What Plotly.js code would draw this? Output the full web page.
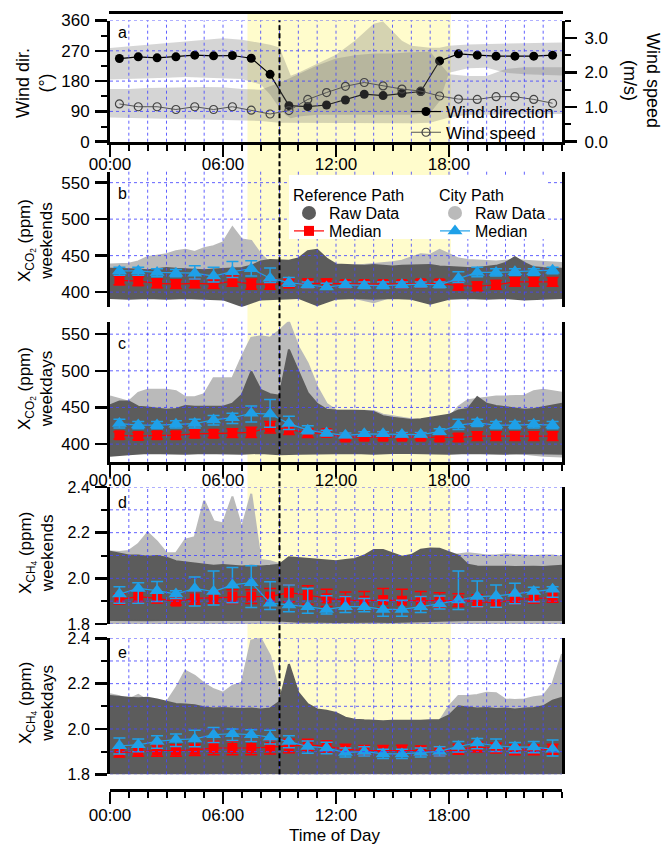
<!DOCTYPE html>
<html><head><meta charset="utf-8">
<script src="https://cdn.plot.ly/plotly-3.0.1.min.js"></script>
<style>html,body{margin:0;padding:0;background:#fff;} #chart{width:662px;height:845px;}</style>
</head><body><div id="chart"></div>
<script>
// ---------- x positions ----------
const hourMid = [0.5,1.5,2.5,3.5,4.5,5.5,6.5,7.5,8.5,9.5,10.5,11.5,12.5,13.5,14.5,15.5,16.5,17.5,18.5,19.5,20.5,21.5,22.5,23.5];
const rawHours = [0,0.5,1,1.5,2,2.5,3,3.5,4,4.5,5,5.5,6,6.5,7,7.5,8,8.5,9,9.5,10,10.5,11,11.5,12,12.5,13,13.5,14,14.5,15,15.5,16,16.5,17,17.5,18,18.5,19,19.5,20,20.5,21,21.5,22,22.5,23,23.5,24];
const loHours = [0,1,2,3,4,5,6,7,8,9,10,11,12,13,14,15,16,17,18,19,20,21,22,23,24];
const gridHours = [1,2,3,4,5,6,7,8,9,10,11,12,13,14,15,16,17,18,19,20,21,22,23];
const tickHours = [0,6,12,18];
const tickTimes = ['00:00','06:00','12:00','18:00'];

// ---------- panel a: wind ----------
const windDir = [247,252,249,252,257,255,256,248,200,107,104,109,124,141,137,144,149,240,261,257,254,254,254,257];
const windSpd = [1.09,1.01,1.01,0.93,1.01,0.93,1.01,0.91,0.80,0.90,1.22,1.42,1.60,1.71,1.61,1.52,1.46,1.32,1.23,1.22,1.30,1.30,1.22,1.11];
const dirHours = [0,1,2,3,4,5,6,7,8,8.5,9,9.3,9.6,10,11,12,13,14,14.5,15,15.5,16,17,17.5,18,19,20,21,22,23,24];
const dirUp = [278,283,288,292,297,302,307,303,293,288,280,240,196,205,232,258,300,350,357,330,300,285,279,279,285,289,290,290,291,293,295];
const dirLo = [185,186,188,190,192,190,188,186,170,140,100,80,70,75,80,82,82,80,80,80,80,80,85,120,205,218,220,205,200,198,197];
const spdHours = [0,1,2,3,4,5,6,7,8,9,10,11,12,13,14,15,16,17,18,19,20,21,22,23,24];
const spdUp = [1.52,1.52,1.55,1.56,1.58,1.58,1.57,1.52,1.50,1.70,1.95,2.20,2.40,2.50,2.55,2.55,2.58,2.60,1.95,1.90,1.90,2.10,2.15,2.15,2.15];
const spdLo = [0.70,0.70,0.68,0.66,0.65,0.64,0.63,0.62,0.60,0.55,0.55,0.53,0.53,0.53,0.53,0.53,0.53,0.55,0.70,0.78,0.80,0.80,0.80,0.80,0.80];
const dirGrid = [90,180,270,360];

// ---------- panel b: CO2 weekends ----------
const refB_hi = [432,432,431,431,430,431,433,432,431,431,430,431,432,433,433,436,442,444,444,443,446,456,458,446,438,437,436,436,437,436,435,436,436,437,437,435,434,433,433,433,434,436,440,448,440,434,433,432,432];
const refB_lo = [392,391,392,391,392,391,390,381,390,391,392,382,391,392,391,392,391,384,391,392,391,392,390,391,392];
const cityB_hi = [438,438,439,442,448,450,452,456,458,455,460,463,468,489,472,470,452,440,437,436,435,435,434,434,434,435,436,437,438,440,441,443,447,452,451,458,452,446,444,443,443,442,443,444,443,442,441,440,440];
const cityB_lo = [394,395,394,395,394,395,394,393,394,395,396,396,395,392,386,394,396,395,395,394,395,394,395,394,394];
const redB = [416,415,412,411,412,411,415,411,411,412,412,412,411,411,411,411,412,412,409,408,410,414,414,414];
const redB_err = [6,6,6,6,6,6,7,7,7,6,6,6,5,5,5,5,5,5,6,6,6,6,6,6];
const blueB = [429,429,427,426,426,422,428,432,419,413,410,407,410,409,409,410,411,410,419,427,427,428,428,430];
const blueB_plus = [5,5,5,5,10,12,14,11,14,7,4,5,4,5,5,4,3,4,9,7,5,4,4,4];
const blueB_minus = [6,6,6,5,8,8,8,10,6,5,4,3,4,4,4,4,4,4,6,6,5,5,5,5];
const co2Ticks = [400,450,500,550];

// ---------- panel c: CO2 weekdays ----------
const refC_hi = [453,458,458,451,450,448,447,448,452,451,451,451,451,455,467,499,474,468,466,529,500,470,455,447,446,446,446,445,444,438,436,434,433,434,436,437,440,446,448,464,455,452,450,448,447,448,450,452,455];
const refC_lo = [384,386,388,388,387,388,388,387,388,386,387,388,388,388,387,388,388,388,387,388,388,387,388,388,387];
const cityC_hi = [465,462,458,470,474,474,474,472,464,464,468,490,490,490,519,545,547,545,555,567,533,510,478,455,446,446,446,446,445,440,438,435,434,433,433,433,436,451,460,462,464,465,465,465,466,472,474,472,470];
const cityC_lo = [386,388,388,387,388,388,387,388,388,388,388,388,388,388,388,388,388,387,388,388,388,388,387,384,383];
const redC = [412,411,412,412,414,414,415,416,423,420,415,415,409,410,410,410,410,409,409,411,411,411,411,411];
const redC_err = [5,5,5,5,5,5,6,7,8,7,6,5,4,4,4,4,4,4,5,6,6,6,6,6];
const blueC = [428,426,426,427,428,433,436,442,441,428,419,415,412,414,414,413,413,417,426,429,426,426,427,426];
const blueC_plus = [6,5,5,5,6,6,6,10,20,10,6,4,3,3,3,3,3,4,8,5,5,5,5,5];
const blueC_minus = [6,5,5,5,6,7,8,12,18,8,5,4,3,3,3,3,3,4,6,5,5,5,5,5];

// ---------- panel d: CH4 weekends ----------
const refD_hi = [2.117,2.110,2.100,2.100,2.095,2.098,2.090,2.075,2.070,2.066,2.058,2.055,2.058,2.055,2.052,2.055,2.052,2.055,2.060,2.092,2.088,2.085,2.080,2.078,2.075,2.080,2.085,2.100,2.124,2.124,2.110,2.095,2.102,2.125,2.131,2.130,2.115,2.100,2.060,2.052,2.051,2.052,2.051,2.050,2.052,2.051,2.050,2.052,2.055];
const refD_lo = [1.818,1.818,1.816,1.818,1.817,1.818,1.818,1.817,1.818,1.815,1.810,1.810,1.809,1.808,1.810,1.809,1.810,1.812,1.815,1.818,1.817,1.818,1.818,1.817,1.818];
const cityD_hi = [2.117,2.115,2.120,2.150,2.200,2.160,2.110,2.110,2.170,2.180,2.340,2.250,2.240,2.358,2.220,2.370,2.080,2.075,2.062,2.060,2.058,2.056,2.055,2.055,2.055,2.055,2.055,2.056,2.058,2.060,2.062,2.065,2.068,2.070,2.072,2.075,2.100,2.105,2.110,2.105,2.100,2.100,2.105,2.102,2.100,2.098,2.100,2.100,2.095];
const cityD_lo = [1.800,1.802,1.800,1.801,1.800,1.799,1.800,1.801,1.800,1.798,1.796,1.796,1.795,1.796,1.795,1.796,1.796,1.798,1.800,1.801,1.800,1.802,1.800,1.801,1.800];
const redD = [1.908,1.920,1.912,1.898,1.912,1.915,1.920,1.920,1.920,1.937,1.927,1.912,1.905,1.902,1.905,1.902,1.902,1.902,1.902,1.898,1.893,1.908,1.912,1.915];
const redD_plus = [0.025,0.030,0.025,0.020,0.030,0.030,0.030,0.030,0.035,0.035,0.040,0.040,0.035,0.040,0.050,0.050,0.040,0.035,0.030,0.030,0.030,0.030,0.025,0.025];
const redD_minus = [0.020,0.025,0.020,0.015,0.025,0.025,0.030,0.030,0.030,0.040,0.040,0.035,0.030,0.030,0.035,0.035,0.030,0.030,0.025,0.025,0.020,0.020,0.020,0.020];
const blueD = [1.931,1.956,1.946,1.931,1.956,1.942,1.971,1.981,1.891,1.883,1.876,1.864,1.876,1.876,1.864,1.864,1.876,1.888,1.905,1.920,1.923,1.934,1.942,1.952];
const blueD_plus = [0.032,0.025,0.040,0.015,0.050,0.090,0.076,0.074,0.094,0.088,0.080,0.060,0.044,0.036,0.040,0.040,0.044,0.035,0.127,0.068,0.048,0.044,0.019,0.011];
const blueD_minus = [0.040,0.065,0.048,0.019,0.077,0.059,0.078,0.109,0.027,0.029,0.029,0.020,0.026,0.022,0.030,0.030,0.026,0.022,0.041,0.044,0.050,0.045,0.045,0.035];
const ch4Ticks = [1.8,2.0,2.2,2.4];
const ch4TickText = ['1.8','2.0','2.2','2.4'];
const ch4Grid = [1.8,1.9,2.0,2.1,2.2,2.3,2.4];

// ---------- panel e: CH4 weekdays ----------
const refE_hi = [2.145,2.140,2.138,2.135,2.138,2.130,2.120,2.110,2.108,2.105,2.095,2.090,2.093,2.090,2.088,2.090,2.086,2.090,2.120,2.286,2.160,2.110,2.086,2.080,2.071,2.050,2.041,2.038,2.036,2.034,2.036,2.035,2.034,2.036,2.038,2.040,2.060,2.100,2.095,2.090,2.093,2.088,2.090,2.086,2.090,2.093,2.100,2.125,2.138];
const refE_lo = [1.805,1.804,1.805,1.803,1.805,1.804,1.805,1.804,1.803,1.804,1.805,1.804,1.803,1.804,1.805,1.804,1.805,1.803,1.804,1.805,1.804,1.805,1.803,1.804,1.805];
const cityE_hi = [2.153,2.145,2.130,2.150,2.125,2.120,2.118,2.180,2.256,2.234,2.200,2.175,2.160,2.190,2.204,2.390,2.400,2.323,2.150,2.090,2.080,2.070,2.050,2.040,2.035,2.030,2.030,2.030,2.030,2.030,2.030,2.030,2.030,2.030,2.032,2.035,2.100,2.145,2.145,2.150,2.160,2.158,2.130,2.128,2.130,2.140,2.145,2.200,2.330];
const cityE_lo = [1.797,1.797,1.796,1.797,1.796,1.797,1.795,1.792,1.790,1.795,1.797,1.796,1.793,1.790,1.795,1.797,1.796,1.797,1.797,1.796,1.797,1.796,1.797,1.796,1.797];
const redE = [1.896,1.900,1.905,1.905,1.908,1.916,1.916,1.916,1.920,1.925,1.930,1.923,1.911,1.905,1.905,1.908,1.905,1.900,1.911,1.920,1.916,1.908,1.908,1.911];
const redE_err = [0.020,0.020,0.025,0.025,0.025,0.030,0.030,0.030,0.030,0.030,0.025,0.025,0.022,0.022,0.022,0.020,0.020,0.020,0.022,0.022,0.022,0.022,0.022,0.022];
const blueE = [1.926,1.930,1.945,1.953,1.956,1.975,1.979,1.975,1.964,1.945,1.923,1.916,1.896,1.901,1.890,1.890,1.896,1.901,1.923,1.938,1.926,1.920,1.920,1.911];
const blueE_plus = [0.034,0.026,0.025,0.025,0.038,0.032,0.021,0.022,0.030,0.025,0.024,0.025,0.020,0.020,0.020,0.020,0.020,0.020,0.022,0.020,0.030,0.020,0.025,0.040];
const blueE_minus = [0.036,0.030,0.030,0.030,0.035,0.035,0.030,0.030,0.030,0.028,0.030,0.025,0.020,0.020,0.020,0.020,0.020,0.020,0.025,0.025,0.025,0.025,0.025,0.030];

// ---------- styles ----------
const DARK = '#5c5c5c', LIGHT = '#bababa', RED = '#ff0000', BLUE = '#1ea0e8';
const GRID = 'rgba(70,70,255,0.85)';
const BANDFILL = 'rgba(115,115,115,0.3)';
const FONT = 'Liberation Sans, Arial, sans-serif';

function band(xHi, hi, xLo, lo) {
  return { x: xHi.concat(xLo.slice().reverse()), y: hi.concat(lo.slice().reverse()) };
}
function cloud(hi, lo, color, xa, ya) {
  const p = band(rawHours, hi, loHours, lo);
  return {type:'scatter', mode:'lines', x:p.x, y:p.y, fill:'toself', fillcolor:color,
    line:{color:color, width:2}, xaxis:xa, yaxis:ya, hoverinfo:'skip', showlegend:false};
}
function median(y, plus, minus, isRed, xa, ya, leg) {
  const c = isRed ? RED : BLUE;
  return {type:'scatter', mode:'lines+markers', x:hourMid, y:y, xaxis:xa, yaxis:ya,
    line:{color:c, width:1.2},
    marker: isRed ? {symbol:'square', size:10, color:c} : {symbol:'triangle-up', size:13, color:c},
    error_y:{type:'data', symmetric:false, array:plus, arrayminus:minus, color:c, thickness:1.5, width:6},
    name:'Median', showlegend: !!leg, legend: leg || 'legend', hoverinfo:'skip'};
}
function legendDot(color, leg) {
  return {type:'scatter', mode:'markers', x:[null], y:[null], xaxis:'x2', yaxis:'y3',
    marker:{size:14, color:color}, name:'Raw Data', legend:leg, showlegend:true, hoverinfo:'skip'};
}

const dirB = band(dirHours, dirUp, dirHours, dirLo);
const spdB = band(spdHours, spdUp, spdHours, spdLo);

const data = [
  {type:'scatter', mode:'lines', x:dirB.x, y:dirB.y, fill:'toself', fillcolor:BANDFILL, line:{width:0}, xaxis:'x', yaxis:'y', showlegend:false, hoverinfo:'skip'},
  {type:'scatter', mode:'lines+markers', x:hourMid, y:windDir, xaxis:'x', yaxis:'y', name:'Wind direction',
    line:{color:'#000', width:1.2}, marker:{symbol:'circle', size:9, color:'#000'}, legend:'legend', hoverinfo:'skip'},
  {type:'scatter', mode:'lines', x:spdB.x, y:spdB.y, fill:'toself', fillcolor:BANDFILL, line:{width:0}, xaxis:'x', yaxis:'y2', showlegend:false, hoverinfo:'skip'},
  {type:'scatter', mode:'lines+markers', x:hourMid, y:windSpd, xaxis:'x', yaxis:'y2', name:'Wind speed',
    line:{color:'#555', width:1}, marker:{symbol:'circle-open', size:8, color:'#444', line:{width:1.2}}, legend:'legend4', hoverinfo:'skip'},

  cloud(cityB_hi, cityB_lo, LIGHT, 'x2', 'y3'),
  cloud(refB_hi, refB_lo, DARK, 'x2', 'y3'),
  legendDot(DARK, 'legend2'),
  legendDot(LIGHT, 'legend5'),
  median(redB, redB_err, redB_err, true, 'x2', 'y3', 'legend3'),
  median(blueB, blueB_plus, blueB_minus, false, 'x2', 'y3', 'legend6'),

  cloud(cityC_hi, cityC_lo, LIGHT, 'x3', 'y4'),
  cloud(refC_hi, refC_lo, DARK, 'x3', 'y4'),
  median(redC, redC_err, redC_err, true, 'x3', 'y4'),
  median(blueC, blueC_plus, blueC_minus, false, 'x3', 'y4'),

  cloud(cityD_hi, cityD_lo, LIGHT, 'x4', 'y5'),
  cloud(refD_hi, refD_lo, DARK, 'x4', 'y5'),
  median(redD, redD_plus, redD_minus, true, 'x4', 'y5'),
  median(blueD, blueD_plus, blueD_minus, false, 'x4', 'y5'),

  cloud(cityE_hi, cityE_lo, LIGHT, 'x5', 'y6'),
  cloud(refE_hi, refE_lo, DARK, 'x5', 'y6'),
  median(redE, redE_err, redE_err, true, 'x5', 'y6'),
  median(blueE, blueE_plus, blueE_minus, false, 'x5', 'y6')
];

function xax(labeled, anchor, extra) {
  return Object.assign({
    range:[0,24], domain:[0,1], anchor:anchor,
    tickmode:'array', tickvals:tickHours, ticktext:tickTimes,
    showgrid:false, zeroline:false,
    minor:{tickmode:'linear', tick0:0, dtick:1, showgrid:false,
      ticks: labeled ? 'outside' : '', ticklen:6, tickwidth:2, tickcolor:'#000'},
    showline:labeled, linecolor:'#000', linewidth:3,
    ticks: labeled ? 'outside' : '', ticklen:12, tickwidth:2.5, tickcolor:'#000',
    showticklabels:labeled, tickfont:{size:17, family:FONT, color:'#000'},
    fixedrange:true
  }, extra || {});
}
function yax(domain, range, tickvals, ticktext, minorDtick, anchor, extra) {
  const a = {
    domain:domain, range:range, anchor:anchor,
    tickmode:'array', tickvals:tickvals, ticktext:ticktext,
    showgrid:false, zeroline:false,
    showline:true, linecolor:'#000', linewidth:3, mirror:true,
    ticks:'outside', ticklen:12, tickwidth:2.5, tickcolor:'#000',
    tickfont:{size:17, family:FONT, color:'#000'}, ticklabelstandoff:2, fixedrange:true
  };
  if (minorDtick) {
    a.minor = {tickmode:'linear', tick0:1.8, dtick:minorDtick, ticks:'outside', ticklen:6, tickwidth:2, tickcolor:'#000', showgrid:false};
  }
  return Object.assign(a, extra || {});
}

const P = 778;
const py = v => (790 - v) / P;        // pixel row -> paper fraction
const px = v => (v - 110) / 452;      // pixel column -> paper fraction

// dotted grid drawn in front of the data clouds
const panels = [
  {xa:'x', ya:'y', vals:dirGrid},
  {xa:'x2', ya:'y3', vals:co2Ticks},
  {xa:'x3', ya:'y4', vals:co2Ticks},
  {xa:'x4', ya:'y5', vals:ch4Grid},
  {xa:'x5', ya:'y6', vals:ch4Grid}
];
const gridShapes = [];
panels.forEach(p => {
  gridHours.forEach(h => gridShapes.push({type:'line', xref:p.xa, yref:p.ya + ' domain', x0:h, x1:h, y0:0, y1:1,
    line:{color:GRID, width:1, dash:'dot'}, layer:'above'}));
  p.vals.forEach(v => gridShapes.push({type:'line', xref:p.xa + ' domain', yref:p.ya, x0:0, x1:1, y0:v, y1:v,
    line:{color:GRID, width:1, dash:'dot'}, layer:'above'}));
});

const legBase = {xanchor:'left', yanchor:'top', bgcolor:'rgba(0,0,0,0)', tracegroupgap:0};

const layout = {
  width:662, height:845,
  margin:{l:110, r:100, t:12, b:55},
  paper_bgcolor:'#fff', plot_bgcolor:'rgba(0,0,0,0)',
  font:{family:FONT, size:17, color:'#000'},
  showlegend:true,
  xaxis: xax(true, 'y', {ticklabelstandoff:-7}),
  xaxis2: xax(false, 'y3'),
  xaxis3: xax(true, 'y4', {ticklabelstandoff:-11}),
  xaxis4: xax(false, 'y5'),
  xaxis5: xax(true, 'free', {position:0, ticklabelstandoff:-3}),
  yaxis: yax([py(141.7), py(20.5)], [0,360], [0,90,180,270,360], ['0','90','180','270','360'], 0, 'x',
    {mirror:false, minor:{tickmode:'linear', tick0:0, dtick:45, ticks:'outside', ticklen:6, tickwidth:2, tickcolor:'#000', showgrid:false}}),
  yaxis2: {overlaying:'y', side:'right', anchor:'x', range:[0,3.5], tickmode:'array', tickvals:[0,1,2,3], ticktext:['0.0','1.0','2.0','3.0'],
    showgrid:false, zeroline:false, showline:true, linecolor:'#000', linewidth:3,
    ticks:'outside', ticklen:12, tickwidth:2.5, tickcolor:'#000', ticklabelstandoff:4,
    minor:{tickmode:'linear', tick0:0, dtick:0.5, ticks:'outside', ticklen:6, tickwidth:2, tickcolor:'#000', showgrid:false},
    tickfont:{size:17, family:FONT, color:'#000'}, fixedrange:true},
  yaxis3: yax([py(306.7), py(171.7)], [380,565], co2Ticks, ['400','450','500','550'], 0, 'x2'),
  yaxis4: yax([py(461.7), py(321.7)], [376,567], co2Ticks, ['400','450','500','550'], 0, 'x3'),
  yaxis5: yax([py(624), py(487)], [1.8,2.4], ch4Ticks, ch4TickText, 0.1, 'x4', {tickfont:{size:16, family:FONT, color:'#000'}}),
  yaxis6: yax([py(774.3), py(638.3)], [1.8,2.4], ch4Ticks, ch4TickText, 0.1, 'x5', {tickfont:{size:16, family:FONT, color:'#000'}}),
  legend:  Object.assign({x:px(406), y:py(94), font:{size:17}}, legBase),
  legend4: Object.assign({x:px(406), y:py(114.7), font:{size:17}}, legBase),
  legend2: Object.assign({x:px(289), y:py(196), font:{size:16}}, legBase),
  legend3: Object.assign({x:px(289), y:py(214), font:{size:16}}, legBase),
  legend5: Object.assign({x:px(435), y:py(196), font:{size:16}}, legBase),
  legend6: Object.assign({x:px(435), y:py(214), font:{size:16}}, legBase),
  shapes: [
    {type:'rect', xref:'x', yref:'paper', x0:7.3, x1:18.1, y0:py(774.3), y1:py(13), fillcolor:'#fffccc', line:{width:0}, layer:'below'}
  ].concat(gridShapes).concat([
    {type:'line', xref:'x', yref:'paper', x0:9, x1:9, y0:py(774.3), y1:py(20.5), line:{color:'#000', width:2, dash:'5px,3px'}, layer:'above'},
    {type:'line', xref:'paper', yref:'paper', x0:px(109), x1:px(563), y0:py(12.5), y1:py(12.5), line:{color:'#000', width:3}, layer:'above'},
    {type:'rect', xref:'paper', yref:'paper', x0:px(289), x1:px(545), y0:py(239), y1:py(175), fillcolor:'#fff', line:{width:0}, layer:'above'}
  ]),
  annotations: [
    {text:'Wind dir.<br>(°)', x:px(35), y:py(83), textangle:-90, font:{size:18}},
    {text:'Wind speed<br>(m/s)', x:px(641), y:py(80), textangle:90, font:{size:18}},
    {text:'X<sub>CO<sub>2</sub></sub> (ppm)<br>weekends', x:px(36), y:py(241), textangle:-90, font:{size:17}},
    {text:'X<sub>CO<sub>2</sub></sub> (ppm)<br>weekdays', x:px(36), y:py(389), textangle:-90, font:{size:17}},
    {text:'X<sub>CH<sub>4</sub></sub> (ppm)<br>weekends', x:px(36), y:py(553), textangle:-90, font:{size:17}},
    {text:'X<sub>CH<sub>4</sub></sub> (ppm)<br>weekdays', x:px(36), y:py(703), textangle:-90, font:{size:17}},
    {text:'Time of Day', x:px(335), y:py(835), font:{size:17}},
    {text:'Reference Path', x:px(291), y:py(195), xanchor:'left', font:{size:16}},
    {text:'City Path', x:px(437), y:py(195), xanchor:'left', font:{size:16}},
    {text:'a', x:px(122), y:py(32), font:{size:16}},
    {text:'b', x:px(122), y:py(193), font:{size:16}},
    {text:'c', x:px(122), y:py(343), font:{size:16}},
    {text:'d', x:px(122), y:py(502), font:{size:16}},
    {text:'e', x:px(122), y:py(652), font:{size:16}}
  ].map(a => Object.assign({xref:'paper', yref:'paper', showarrow:false, xanchor:'center', yanchor:'middle'}, a))
};

Plotly.newPlot('chart', data, layout, {staticPlot:true, displayModeBar:false});
</script></body></html>
